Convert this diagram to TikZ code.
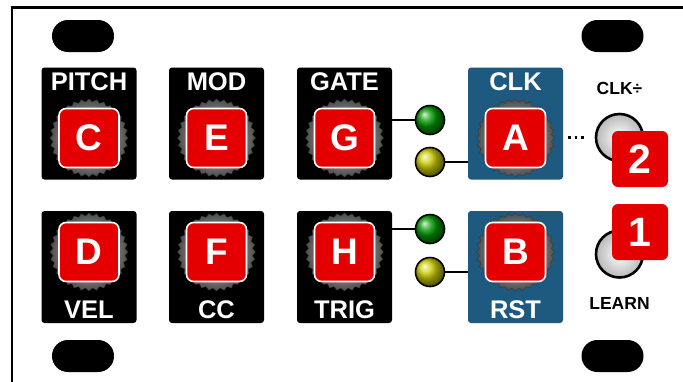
\documentclass[tikz,border=0pt]{standalone}
\usepackage{fontspec}
\setmainfont{Liberation Sans}
\usetikzlibrary{shapes.geometric}
\definecolor{panelblue}{RGB}{30,90,128}
\definecolor{btnred}{RGB}{228,0,0}

\begin{document}
\begin{tikzpicture}[x=1pt, y=-1pt,
	modbox/.style={fill=black, rounded corners=3pt, minimum width=95pt, minimum height=112pt, inner sep=0pt},
	clkbox/.style={modbox, fill=panelblue},
	knob/.style={star, star points=32, star point ratio=1.08, minimum size=78pt, inner sep=0pt, shading=radial, inner color=gray!30, outer color=gray!60!black, draw=gray!40!black, line width=0.3pt},
	btn/.style={fill=btnred, draw=white, line width=1.6pt, rounded corners=7pt, minimum width=60pt, minimum height=59pt, inner sep=0pt, text=white, font=\fontsize{37}{37}\selectfont\bfseries},
	lbl/.style={text=white, inner sep=0pt, font=\fontsize{25.5}{25.5}\selectfont\bfseries},
	small/.style={text=black, inner sep=0pt, font=\fontsize{17.5}{17.5}\selectfont\bfseries},
	led/.style={circle, draw=black, line width=1.6pt, minimum size=29pt, inner sep=0pt},
	jack/.style={circle, draw=black, line width=2.6pt, minimum size=47pt, inner sep=0pt, shading=radial, inner color=white, outer color=gray!55},
	badge/.style={fill=btnred, rounded corners=6pt, minimum width=56pt, minimum height=56pt, inner sep=0pt, text=white, font=\fontsize{41}{41}\selectfont\bfseries},
	hole/.style={fill=black, rounded corners=15.9pt, minimum width=62pt, minimum height=32pt, inner sep=0pt},
	wire/.style={line width=1.6pt, black}]
	\useasboundingbox (0,0) rectangle (683,381);
	\clip (0,0) rectangle (683,381);
	\fill[white] (0,0) rectangle (683,381);
	\draw[line width=2.5pt] (12,400) |- (700,7.5);

	\node[hole] (holetl) at (83,36) {};
	\node[hole] (holetr) at (612.5,36) {};
	\node[hole] (holebl) at (83,356) {};
	\node[hole] (holebr) at (612.5,356) {};

	\node[modbox] (pitchbox) at (89,123.5) {};
	\node[modbox] (modbox) at (216.5,123.5) {};
	\node[modbox] (gatebox) at (344.5,123.5) {};
	\node[clkbox] (clkbox) at (515.5,123.5) {};
	\node[modbox] (velbox) at (89,267) {};
	\node[modbox] (ccbox) at (216.5,267) {};
	\node[modbox] (trigbox) at (344.5,267) {};
	\node[clkbox] (rstbox) at (515.5,267) {};

	\node[lbl] (pitch) at (89,82) {PITCH};
	\node[lbl] (mod) at (216.5,82) {MOD};
	\node[lbl] (gate) at (344.5,82) {GATE};
	\node[lbl] (clk) at (515.5,82) {CLK};
	\node[lbl] (vel) at (89,310) {VEL};
	\node[lbl] (cc) at (216.5,310) {CC};
	\node[lbl] (trig) at (344.5,310) {TRIG};
	\node[lbl] (rst) at (515.5,310) {RST};

	\node[knob] (knobc) at (89,138) {};
	\node[knob] (knobe) at (216.5,138) {};
	\node[knob] (knobg) at (344.5,138) {};
	\node[knob] (knoba) at (515.5,138) {};
	\node[knob] (knobd) at (89,252) {};
	\node[knob] (knobf) at (216.5,252) {};
	\node[knob] (knobh) at (344.5,252) {};
	\node[knob] (knobb) at (515.5,252) {};

	\node[btn] (btnc) at (knobc) {C};
	\node[btn] (btne) at (knobe) {E};
	\node[btn] (btng) at (knobg) {G};
	\node[btn] (btna) at (knoba) {A};
	\node[btn] (btnd) at (knobd) {D};
	\node[btn] (btnf) at (knobf) {F};
	\node[btn] (btnh) at (knobh) {H};
	\node[btn] (btnb) at (knobb) {B};

	\node[led, ball color=green!60!black] (gateled) at (430,120) {};
	\node[led, ball color=yellow!80!black] (clkled) at (430,162) {};
	\node[led, ball color=green!60!black] (trigled) at (430,229) {};
	\node[led, ball color=yellow!80!black] (rstled) at (430,272) {};
	\draw[wire] (gatebox.east |- gateled) -- (gateled);
	\draw[wire] (clkled) -- (clkbox.west |- clkled);
	\draw[wire] (trigbox.east |- trigled) -- (trigled);
	\draw[wire] (rstled) -- (rstbox.west |- rstled);

	\node[small] (clkdiv) at (619.5,88) {CLK÷};
	\node[jack] (divjack) at (619.5,137.5) {};
	\node[jack] (learnjack) at (619.5,254) {};
	\node[small] (learn) at (619.5,303.5) {LEARN};
	\draw[line width=2.6pt, dash pattern=on 2.6pt off 4pt, shorten <=5pt, shorten >=8pt] (clkbox.east |- divjack) -- (divjack.west);

	\node[badge] (two) at (640,159) {2};
	\node[badge] (one) at (640,232) {1};
\end{tikzpicture}
\end{document}
